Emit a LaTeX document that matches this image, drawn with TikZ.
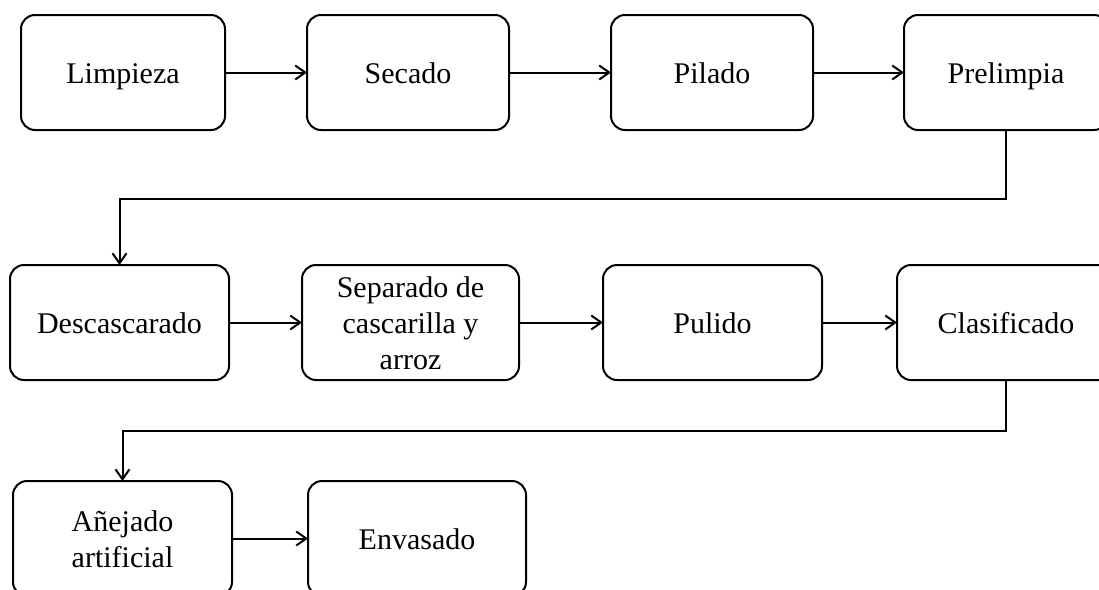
\documentclass[tikz,border=0pt]{standalone}
\usepackage{fontspec}
\setmainfont{Liberation Serif}
\usetikzlibrary{arrows.meta}
\newcommand\topst{\rule{0pt}{28pt}}
\newcommand\botst{\rule[-7pt]{0pt}{7pt}}
\tikzset{
  stepbox/.style={draw=black, line width=2pt, rounded corners=14pt, inner sep=0pt, outer sep=0pt,
    minimum height=115pt, align=center, font=\fontsize{30}{36}\selectfont, text=black},
  arr/.style={draw=black, line width=2pt, -{Straight Barb[length=10pt,width=14pt,line width=2pt]}}
}
\begin{document}
\begin{tikzpicture}[x=1pt,y=-1pt]
\useasboundingbox (0,0) rectangle (1099,589);
\clip (0,0) rectangle (1099,589);
\fill[white] (0,0) rectangle (1099,589);
% row 1
\node[stepbox, minimum width=204pt] (limpieza) at (123,72.5) {\topst Limpieza\botst};
\node[stepbox, minimum width=202pt] (secado) at (408,72.5) {\topst Secado\botst};
\node[stepbox, minimum width=202pt] (pilado) at (712,72.5) {\topst Pilado\botst};
\node[stepbox, minimum width=204pt] (prelimpia) at (1006,72.5) {\topst Prelimpia\botst};
% row 2
\node[stepbox, minimum width=219pt] (descascarado) at (119.5,322.5) {\topst Descascarado\botst};
\node[stepbox, minimum width=217pt] (separado) at (410.5,322.5) {\topst Separado de\\cascarilla y\\arroz\botst};
\node[stepbox, minimum width=219pt] (pulido) at (712.5,322.5) {\topst Pulido\botst};
\node[stepbox, minimum width=218pt] (clasificado) at (1006,322.5) {\topst Clasificado\botst};
% row 3
\node[stepbox, minimum width=219pt] (anejado) at (122.5,538.5) {\topst Añejado\\artificial\botst};
\node[stepbox, minimum width=218pt] (envasado) at (417,538.5) {\topst Envasado\botst};
% connectors
\draw[arr] (limpieza) -- (secado);
\draw[arr] (secado) -- (pilado);
\draw[arr] (pilado) -- (prelimpia);
\draw[arr] (prelimpia.south) -- ++(0,68.5) -| (descascarado.north);
\draw[arr] (descascarado) -- (separado);
\draw[arr] (separado) -- (pulido);
\draw[arr] (pulido) -- (clasificado);
\draw[arr] (clasificado.south) -- ++(0,51) -| (anejado.north);
\draw[arr] (anejado) -- (envasado);
\end{tikzpicture}
\end{document}
